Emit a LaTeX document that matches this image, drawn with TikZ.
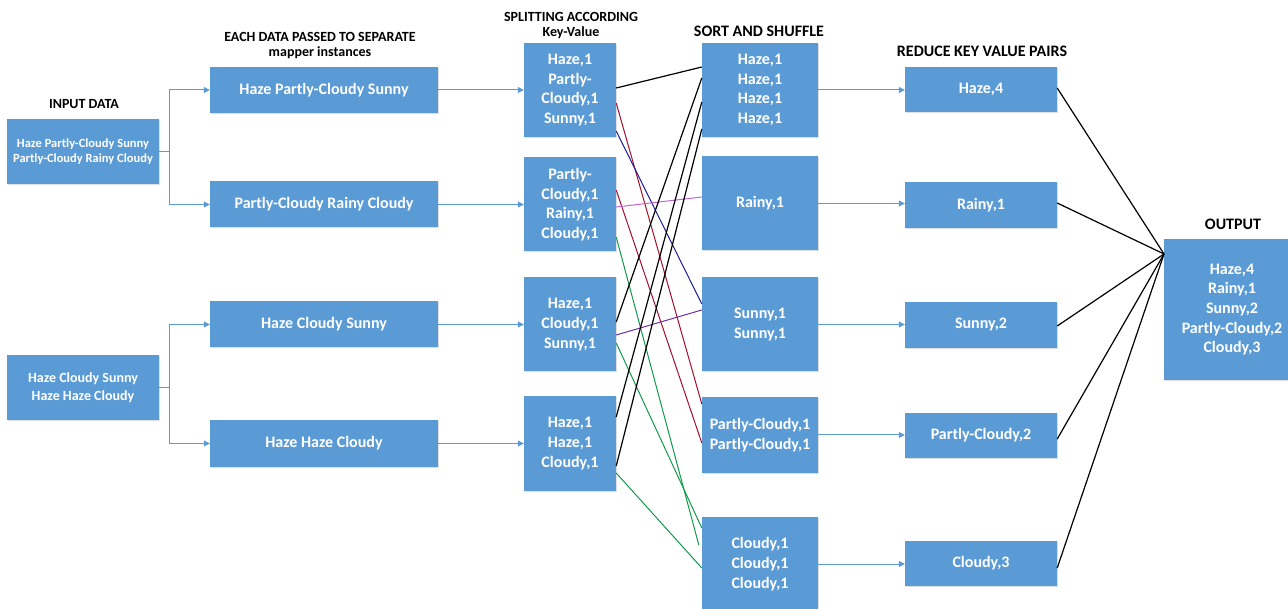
\documentclass[tikz,border=0pt]{standalone}
\usepackage{fontspec}
\setmainfont{Carlito}
\usetikzlibrary{arrows.meta,shadows}
\definecolor{boxblue}{HTML}{5B9BD5}
\definecolor{arrblue}{HTML}{5B9BD5}
\definecolor{lred}{HTML}{A50F2D}
\definecolor{lblue}{HTML}{1C1C9E}
\definecolor{lgreen}{HTML}{119A4B}
\definecolor{lpink}{HTML}{C166CC}
\definecolor{lpurple}{HTML}{7030A0}
\begin{document}
\begin{tikzpicture}[x=1pt,y=-1pt,
  box/.style={fill=boxblue, text=white, font=\bfseries\fontsize{16}{19.7}\selectfont,
    align=center, inner sep=0pt,
    drop shadow={shadow xshift=1pt, shadow yshift=-1pt, opacity=0.25, fill=black!50}},
  hdr/.style={font=\bfseries\fontsize{14}{15}\selectfont, align=center, text=black, inner sep=0pt},
  hdrL/.style={font=\bfseries\fontsize{16}{18}\selectfont, align=center, text=black, inner sep=0pt},
  arr/.style={draw=arrblue, line width=1pt, -{Triangle[length=6pt,width=6pt]}},
  blk/.style={draw=black, line width=1.2pt},
  cl/.style={line width=1pt}]
\useasboundingbox (0,0) rectangle (1288,609);
\clip (0,0) rectangle (1288,609);

% headers
\node[hdr] (hIn) at (84,104) {INPUT DATA};
\node[hdr] (hMap) at (320,45.5) {EACH DATA PASSED TO SEPARATE\\mapper instances};
\node[hdr] (hSplit) at (571,25.5) {SPLITTING ACCORDING\\Key-Value};
\node[hdrL] (hSort) at (759,31) {SORT AND SHUFFLE};
\node[hdrL] (hRed) at (982,51) {REDUCE KEY VALUE PAIRS};
\node[hdrL] (hOut) at (1233,224) {OUTPUT};

% input
\node[box, minimum width=152pt, minimum height=65pt, font=\bfseries\fontsize{12.5}{15}\selectfont] (in1) at (83,151.5) {Haze Partly-Cloudy Sunny\\Partly-Cloudy Rainy Cloudy};
\node[box, minimum width=152pt, minimum height=65pt, font=\bfseries\fontsize{14}{18}\selectfont] (in2) at (83,388) {Haze Cloudy Sunny\\Haze Haze Cloudy};

% mappers
\node[box, minimum width=228pt, minimum height=46pt] (m1) at (324,90) {Haze Partly-Cloudy Sunny};
\node[box, minimum width=228pt, minimum height=46pt] (m2) at (324,204.5) {Partly-Cloudy Rainy Cloudy};
\node[box, minimum width=228pt, minimum height=46pt] (m3) at (324,324.5) {Haze Cloudy Sunny};
\node[box, minimum width=228pt, minimum height=46pt] (m4) at (324,443.5) {Haze Haze Cloudy};

% split
\node[box, minimum width=92pt, minimum height=94pt] (s1) at (570,90) {Haze,1\\Partly-\\Cloudy,1\\Sunny,1};
\node[box, minimum width=92pt, minimum height=94pt] (s2) at (570,204.5) {Partly-\\Cloudy,1\\Rainy,1\\Cloudy,1};
\node[box, minimum width=92pt, minimum height=94pt] (s3) at (570,324.5) {Haze,1\\Cloudy,1\\Sunny,1};
\node[box, minimum width=92pt, minimum height=94pt] (s4) at (570,443.5) {Haze,1\\Haze,1\\Cloudy,1};

% sort
\node[box, minimum width=116pt, minimum height=94pt] (k1) at (760,90) {Haze,1\\Haze,1\\Haze,1\\Haze,1};
\node[box, minimum width=116pt, minimum height=94pt] (k2) at (760,203.5) {Rainy,1};
\node[box, minimum width=116pt, minimum height=94pt] (k3) at (760,324.5) {Sunny,1\\Sunny,1};
\node[box, minimum width=116pt, minimum height=76pt] (k4) at (760,435) {Partly-Cloudy,1\\Partly-Cloudy,1};
\node[box, minimum width=116pt, minimum height=94pt] (k5) at (760,564) {Cloudy,1\\Cloudy,1\\Cloudy,1};

% reduce
\node[box, minimum width=152pt, minimum height=45pt] (r1) at (981,89.5) {Haze,4};
\node[box, minimum width=152pt, minimum height=46pt] (r2) at (981,205) {Rainy,1};
\node[box, minimum width=152pt, minimum height=46pt] (r3) at (981,325) {Sunny,2};
\node[box, minimum width=152pt, minimum height=45pt] (r4) at (981,435.5) {Partly-Cloudy,2};
\node[box, minimum width=152pt, minimum height=45pt] (r5) at (981,563.5) {Cloudy,3};

% output
\node[box, minimum width=136pt, minimum height=141pt] (out) at (1232,309.5) {Haze,4\\Rainy,1\\Sunny,2\\Partly-Cloudy,2\\Cloudy,3};

% input -> mapper arrows
\draw[arrblue, line width=1pt] (in1.east) -- ++(10,0) coordinate (b1);
\draw[arr] (b1) |- (m1.west);
\draw[arr] (b1) |- (m2.west);
\draw[arrblue, line width=1pt] (in2.east) -- ++(10,0) coordinate (b2);
\draw[arr] (b2) |- (m3.west);
\draw[arr] (b2) |- (m4.west);

% mapper -> split
\draw[arr] (m1.east) -- (s1.west);
\draw[arr] (m2.east) -- (s2.west);
\draw[arr] (m3.east) -- (s3.west);
\draw[arr] (m4.east) -- (s4.west);

% sort -> reduce
\draw[arr] (k1.east) -- (k1.east -| r1.west);
\draw[arr] (k2.east) -- (k2.east -| r2.west);
\draw[arr] (k3.east) -- (k3.east -| r3.west);
\draw[arr] (k4.east) -- (k4.east -| r4.west);
\draw[arr] (k5.east) -- (k5.east -| r5.west);

% shuffle lines
\draw[blk] ([yshift=2pt]s1.east) -- ([yshift=23pt]k1.west);
\draw[cl, lred] ([yshift=-13pt]s1.east) -- ([yshift=31pt]k4.west);
\draw[cl, lblue] ([yshift=-41pt]s1.east) -- ([yshift=20.5pt]k3.west);
\draw[cl, lred] ([yshift=14.5pt]s2.east) -- ([yshift=-8pt]k4.west);
\draw[cl, lpink] ([yshift=-2.5pt]s2.east) -- ([yshift=6.5pt]k2.west);
\draw[cl, lgreen] ([yshift=-32.5pt]s2.east) -- ([xshift=-3pt,yshift=19pt]k5.west);
\draw[blk] ([yshift=2.5pt]s3.east) -- ([yshift=12pt]k1.west);
\draw[cl, lpurple] ([yshift=-10.5pt]s3.east) -- ([yshift=14.5pt]k3.west);
\draw[cl, lgreen] ([yshift=-18.5pt]s3.east) -- ([yshift=36pt]k5.west);
\draw[blk] ([yshift=26.5pt]s4.east) -- ([yshift=-12pt]k1.west);
\draw[blk] ([yshift=-22.5pt]s4.east) -- ([yshift=-39pt]k1.west);
\draw[cl, lgreen] ([yshift=-29.5pt]s4.east) -- ([yshift=-4pt]k5.west);

% reduce -> output
\coordinate (cv) at (1164,254);
\draw[blk] ([yshift=1.5pt]r1.east) -- (cv);
\draw[blk] ([yshift=2pt]r2.east) -- (cv);
\draw[blk] ([yshift=-1pt]r3.east) -- (cv);
\draw[blk] ([yshift=-3.5pt]r4.east) -- (cv);
\draw[blk] ([yshift=-4.5pt]r5.east) -- (cv);
\end{tikzpicture}
\end{document}
